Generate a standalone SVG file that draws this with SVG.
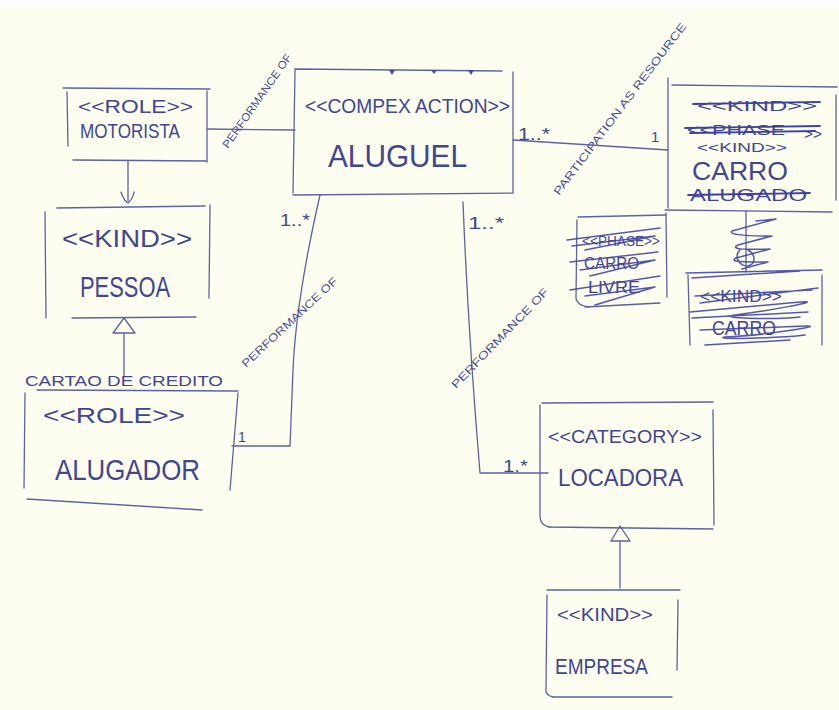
<svg xmlns="http://www.w3.org/2000/svg" width="839" height="710" viewBox="0 0 839 710">
  <style>
    .ln { fill: none; stroke: #5e62a2; stroke-width: 1.3; stroke-linecap: round; stroke-linejoin: round; }
    .tx { font-family: "Liberation Sans", "DejaVu Sans", sans-serif; fill: #42468f; }
    .lb { font-family: "Liberation Sans", "DejaVu Sans", sans-serif; fill: #4a4e98; font-size: 11px; }
    .strike { fill: none; stroke: #3d41a0; stroke-width: 1.8; stroke-linecap: round; }
    .scrib { fill: none; stroke: #4347a6; stroke-width: 1.5; stroke-linecap: round; stroke-linejoin: round; opacity: 0.9; }
    .hollow { fill: #fdfdf0; stroke: #5e62a2; stroke-width: 1.3; stroke-linejoin: round; }
  </style>

  <!-- paper -->
  <rect x="0" y="0" width="839" height="710" fill="#ffffff"/>
  <rect x="0" y="7" width="839" height="703" fill="#fdfdf0"/>

  <!-- connectors -->
  <g id="connectors">
    <!-- Motorista to Aluguel -->
    <path class="ln" d="M207,129 L295,130"/>
    <text class="lb" font-size="9" transform="translate(228,149) rotate(-55)" textLength="112" lengthAdjust="spacingAndGlyphs">PERFORMANCE OF</text>

    <!-- Motorista to Pessoa -->
    <path class="ln" d="M128,161 L128,201"/>
    <path class="ln" d="M121,192 Q124,201 128,203 Q133,199 134,192"/>

    <!-- Alugador generalises to Pessoa -->
    <path class="ln" d="M124,376 L124,333"/>
    <path class="hollow" d="M113,333 L124,318 L135,333 Z"/>

    <!-- Alugador to Aluguel -->
    <path class="ln" d="M232,446 L290,446 L293,370 Q296,300 320,195"/>
    <text class="tx" x="238" y="442" font-size="14">1</text>
    <text class="tx" x="280" y="226" font-size="17" textLength="30" lengthAdjust="spacingAndGlyphs">1..*</text>
    <text class="lb" font-size="12" transform="translate(246,368) rotate(-43)" textLength="126" lengthAdjust="spacingAndGlyphs">PERFORMANCE OF</text>

    <!-- Aluguel to Carro -->
    <path class="ln" d="M513,140 L668,150"/>
    <text class="tx" x="518" y="140" font-size="17" textLength="32" lengthAdjust="spacingAndGlyphs">1..*</text>
    <text class="tx" x="651" y="142" font-size="15">1</text>
    <text class="lb" font-size="12" transform="translate(559,196) rotate(-53)" textLength="212" lengthAdjust="spacingAndGlyphs">PARTICIPATION AS RESOURCE</text>

    <!-- Aluguel to Locadora -->
    <path class="ln" d="M463,202 Q468,330 480,473 L548,473"/>
    <text class="tx" x="468" y="229" font-size="17" textLength="36" lengthAdjust="spacingAndGlyphs">1..*</text>
    <text class="tx" x="503" y="472" font-size="16" textLength="25" lengthAdjust="spacingAndGlyphs">1.*</text>
    <text class="lb" font-size="13" transform="translate(456,389) rotate(-46)" textLength="134" lengthAdjust="spacingAndGlyphs">PERFORMANCE OF</text>

    <!-- Empresa generalises to Locadora -->
    <path class="ln" d="M620,588 L620,541"/>
    <path class="hollow" d="M611,541 L620,526 L630,541 Z"/>

    <!-- scribbled-out link between Carro boxes -->
    <path class="ln" d="M746,211 L746,272"/>
    <path class="scrib" d="M756,221 L776,219 L732,231 C728,234 740,236 772,236 L738,245 C730,249 742,250 770,249 L736,258 C728,262 745,262 768,262 L742,269"/>
    <path class="scrib" d="M740,250 C734,256 738,266 748,266 C756,264 756,254 748,250"/>
  </g>

  <!-- Motorista -->
  <g id="motorista">
    <path class="ln" d="M63,88 L210,89 M67,92 L68,146 M207,91 L207,162 M73,160 L207,161"/>
    <text class="tx" x="78" y="113" font-size="18" textLength="115" lengthAdjust="spacingAndGlyphs">&lt;&lt;ROLE&gt;&gt;</text>
    <text class="tx" x="80" y="138" font-size="21" textLength="100" lengthAdjust="spacingAndGlyphs">MOTORISTA</text>
  </g>

  <!-- Pessoa -->
  <g id="pessoa">
    <path class="ln" d="M57,208 L205,206 M45,212 L46,318 M210,205 L209,298 M72,318 L196,317"/>
    <text class="tx" x="62" y="247" font-size="24" textLength="130" lengthAdjust="spacingAndGlyphs">&lt;&lt;KIND&gt;&gt;</text>
    <text class="tx" x="80" y="297" font-size="29" textLength="90" lengthAdjust="spacingAndGlyphs">PESSOA</text>
  </g>

  <!-- Alugador -->
  <g id="alugador">
    <text class="tx" x="25" y="386" font-size="15" textLength="198" lengthAdjust="spacingAndGlyphs">CARTAO DE CREDITO</text>
    <path class="ln" d="M37,390 L238,391 M25,393 L24,488 M238,393 L230,490 M27,499 L202,510"/>
    <text class="tx" x="43" y="423" font-size="22" textLength="142" lengthAdjust="spacingAndGlyphs">&lt;&lt;ROLE&gt;&gt;</text>
    <text class="tx" x="55" y="480" font-size="29" textLength="145" lengthAdjust="spacingAndGlyphs">ALUGADOR</text>
  </g>

  <!-- Aluguel -->
  <g id="aluguel">
    <path class="ln" d="M295,69 L502,71 M295,70 L293,193 M513,72 L513,193 M293,195 L513,193"/>
    <path d="M389,70 L395,70 L392,75 Z M431,70 L437,70 L434,74 Z M468,70 L474,70 L471,75 Z" fill="#4a4e98"/>
    <text class="tx" x="305" y="113" font-size="21" textLength="205" lengthAdjust="spacingAndGlyphs">&lt;&lt;COMPEX ACTION&gt;&gt;</text>
    <text class="tx" x="328" y="167" font-size="32" textLength="139" lengthAdjust="spacingAndGlyphs">ALUGUEL</text>
  </g>

  <!-- Carro -->
  <g id="carro">
    <path class="ln" d="M672,85 L837,87 M668,78 L668,208 M836,95 L836,200 M665,210 L832,212"/>
    <text class="tx" x="697" y="111" font-size="15" textLength="120" lengthAdjust="spacingAndGlyphs">&lt;&lt;KIND&gt;&gt;</text>
    <path class="strike" d="M693,104 L820,102"/>
    <text class="tx" x="687" y="135" font-size="14" textLength="98" lengthAdjust="spacingAndGlyphs">&lt;&lt;PHASE</text>
    <path class="strike" d="M685,128 L820,126 M690,133 L815,131"/>
    <text class="tx" x="804" y="139" font-size="14" textLength="18" lengthAdjust="spacingAndGlyphs">&gt;&gt;</text>
    <text class="tx" x="697" y="152" font-size="13" textLength="90" lengthAdjust="spacingAndGlyphs">&lt;&lt;KIND&gt;&gt;</text>
    <text class="tx" x="692" y="180" font-size="26" textLength="96" lengthAdjust="spacingAndGlyphs">CARRO</text>
    <text class="tx" x="690" y="201" font-size="17" textLength="117" lengthAdjust="spacingAndGlyphs">ALUGADO</text>
    <path class="strike" d="M688,195 L810,193"/>
  </g>

  <!-- Carro Livre (struck out) -->
  <g id="carro-livre">
    <path class="ln" d="M578,217 L665,215 M577,220 L576,298 Q577,306 590,307 M666,213 L667,297 M585,307 L660,303"/>
    <text class="tx" x="582" y="246" font-size="15" textLength="78" lengthAdjust="spacingAndGlyphs">&lt;&lt;PHASE&gt;&gt;</text>
    <text class="tx" x="584" y="269" font-size="16" textLength="55" lengthAdjust="spacingAndGlyphs">CARRO</text>
    <text class="tx" x="588" y="293" font-size="16" textLength="52" lengthAdjust="spacingAndGlyphs">LIVRE</text>
    <path class="scrib" d="M567,240 L660,228 M572,246 L655,236 L585,250 M570,262 L658,252 M580,270 L655,260 L590,276 M570,290 L660,276 M585,296 L655,287 L595,305"/>
  </g>

  <!-- Carro kind (struck out) -->
  <g id="carro-kind">
    <path class="ln" d="M688,275 L690,345 M822,275 L822,345"/>
    <path class="scrib" d="M686,273 L822,270 M692,278 L800,271"/>
    <text class="tx" x="700" y="302" font-size="17" textLength="82" lengthAdjust="spacingAndGlyphs">&lt;&lt;KIND&gt;&gt;</text>
    <text class="tx" x="712" y="335" font-size="20" textLength="64" lengthAdjust="spacingAndGlyphs">CARRO</text>
    <path class="scrib" d="M695,296 L812,290 M700,303 L818,288 M690,312 L800,302 C830,300 760,312 735,315 C715,318 770,320 800,317 M692,318 L808,312 M700,330 L805,326 C830,325 760,336 725,337 C710,340 780,338 805,335 M705,345 L790,340"/>
  </g>

  <!-- Locadora -->
  <g id="locadora">
    <path class="ln" d="M542,403 L713,402 M540,405 L540,515 Q540,527 552,527 M713,410 L714,525 M548,527 L713,529"/>
    <text class="tx" x="548" y="443" font-size="18" textLength="154" lengthAdjust="spacingAndGlyphs">&lt;&lt;CATEGORY&gt;&gt;</text>
    <text class="tx" x="558" y="486" font-size="23" textLength="125" lengthAdjust="spacingAndGlyphs">LOCADORA</text>
  </g>

  <!-- Empresa -->
  <g id="empresa">
    <path class="ln" d="M547,590 L680,590 M547,595 L546,688 Q545,697 556,697 M678,600 L677,670 M552,697 L672,697"/>
    <text class="tx" x="557" y="621" font-size="18" textLength="96" lengthAdjust="spacingAndGlyphs">&lt;&lt;KIND&gt;&gt;</text>
    <text class="tx" x="555" y="674" font-size="22" textLength="93" lengthAdjust="spacingAndGlyphs">EMPRESA</text>
  </g>
</svg>
